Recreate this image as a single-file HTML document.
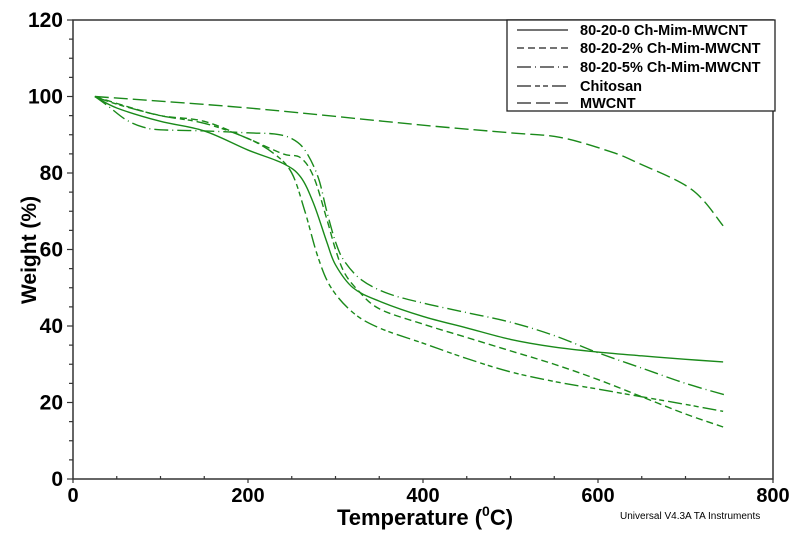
<!DOCTYPE html>
<html><head><meta charset="utf-8"><style>
html,body{margin:0;padding:0;background:#fff}
svg{display:block;font-family:"Liberation Sans",Arial,sans-serif}
</style></head><body>
<svg id="chart" width="809" height="534" viewBox="0 0 809 534" xmlns="http://www.w3.org/2000/svg">
<g id="axes"></g>
<g id="series"></g>
<g id="legend"></g>
<text x="0" y="0" transform="translate(36,250) rotate(-90)" text-anchor="middle" font-weight="bold" font-size="21">Weight (%)</text>
<text x="425" y="525" text-anchor="middle" font-weight="bold" font-size="22">Temperature (<tspan font-size="14" dy="-9">0</tspan><tspan dy="9">C)</tspan></text>
<text x="620" y="519" font-size="10">Universal V4.3A TA Instruments</text>
</svg>
<script>
const xTicks=[0,200,400,600,800];
const yTicks=[0,20,40,60,80,100,120];
const seriesNames=["80-20-0 Ch-Mim-MWCNT","80-20-2% Ch-Mim-MWCNT","80-20-5% Ch-Mim-MWCNT","Chitosan","MWCNT"];
const tS0=[25,50,100,150,200,240,260,275,290,300,320,350,400,450,500,550,600,650,700,743];
const wS0=[100,97,93.5,91,86,82.5,79,72,62,56,50,46.5,42.5,39.5,36.5,34.5,33.2,32.2,31.3,30.6];
const tS2=[25,60,100,150,200,240,260,275,290,300,310,325,350,400,450,500,550,600,650,700,743];
const wS2=[100,97.5,95,93.5,89,85,84,79,68,60,54,49.5,44.5,40.5,37,33.5,30,26,21.5,17,13.6];
const tS5=[25,40,60,80,100,150,200,230,250,265,280,290,300,310,330,360,400,450,500,550,600,650,700,745];
const wS5=[100,97.5,94,92,91.3,91,90.5,90.2,89,86,79,70,62,57,52,48.5,46,43.5,41,37.5,33,29,25,22];
const tCh=[25,50,100,150,200,230,250,265,280,295,320,350,400,450,500,550,600,650,700,743];
const wCh=[100,98,95,93,89,85,80,70,58,50,43.5,39.5,35.5,31.5,28,25.5,23.5,21.5,19.5,17.7];
const tMW=[25,200,400,500,557,614,645,707,743];
const wMW=[100,97,92.5,90.5,89.3,85.6,82.7,75.7,66.2];
const dashes=["none","7 4","14 4 1 4","14 4 5 3 5 4","14 5"];

const NS="http://www.w3.org/2000/svg";
const X0=73,X1=773,Y0=479,Y1=20;
const xs=v=>X0+(v-0)/800*(X1-X0);
const ys=v=>Y0-(v-0)/120*(Y0-Y1);
function mk(tag,attrs,parent){const e=document.createElementNS(NS,tag);for(const k in attrs)e.setAttribute(k,attrs[k]);parent.appendChild(e);return e;}
const axes=document.getElementById('axes');
let fr=mk('rect',{x:X0,y:Y1,width:X1-X0,height:Y0-Y1,fill:'none',stroke:'#333','stroke-width':1.5},axes);


for(let v=0;v<=120;v+=5){
  const major=v%20===0;
  const t=mk('line',{x1:X0-(major?6:4),x2:X0,y1:ys(v),y2:ys(v),stroke:'#333','stroke-width':1.2},axes);
  
  
}
for(let v=0;v<=800;v+=50){
  const major=v%200===0;
  const t=mk('line',{x1:xs(v),x2:xs(v),y1:Y0+(major?4:0),y2:Y0-(major?0:3),stroke:'#333','stroke-width':1.2},axes);
  
  
}
yTicks.forEach(v=>{
  const t=mk('text',{x:X0-10,y:ys(v)+7,'text-anchor':'end','font-size':21,'font-weight':'bold'},axes);
  t.textContent=v;
  
  
});
xTicks.forEach(v=>{
  const t=mk('text',{x:xs(v),y:Y0+23,'text-anchor':'middle','font-size':20,'font-weight':'bold'},axes);
  t.textContent=v;
  
  
});
const series=[[tS0,wS0],[tS2,wS2],[tS5,wS5],[tCh,wCh],[tMW,wMW]];
const sg=document.getElementById('series');
series.forEach((s,i)=>{
  const pts=s[0].map((t,j)=>[xs(t),ys(s[1][j])]);
  let d='M'+pts[0][0]+','+pts[0][1];
  for(let j=0;j<pts.length-1;j++){
    const p0=pts[j-1]||pts[j],p1=pts[j],p2=pts[j+1],p3=pts[j+2]||p2;
    const c1=[p1[0]+(p2[0]-p0[0])/6,p1[1]+(p2[1]-p0[1])/6];
    const c2=[p2[0]-(p3[0]-p1[0])/6,p2[1]-(p3[1]-p1[1])/6];
    d+=' C'+c1+' '+c2+' '+p2;
  }
  const p=mk('path',{d:d,fill:'none',stroke:'#1a8a1a','stroke-width':1.4},sg);
  if(dashes[i]!=='none')p.setAttribute('stroke-dasharray',dashes[i]);
  
  
});
const lg=document.getElementById('legend');
let lb=mk('rect',{x:507,y:20,width:268,height:91,fill:'#fff',stroke:'#222','stroke-width':1.3},lg);


const rowsY=[30,48,67,86,103];
seriesNames.forEach((n,i)=>{
  const l=mk('line',{x1:517,x2:568,y1:rowsY[i],y2:rowsY[i],stroke:'#222','stroke-width':1.2},lg);
  if(dashes[i]!=='none')l.setAttribute('stroke-dasharray',dashes[i]);
  
  
  const t=mk('text',{x:580,y:rowsY[i]+5,'font-size':14.5,'font-weight':'bold'},lg);
  t.textContent=n;
  
  
});
</script>
</body></html>
